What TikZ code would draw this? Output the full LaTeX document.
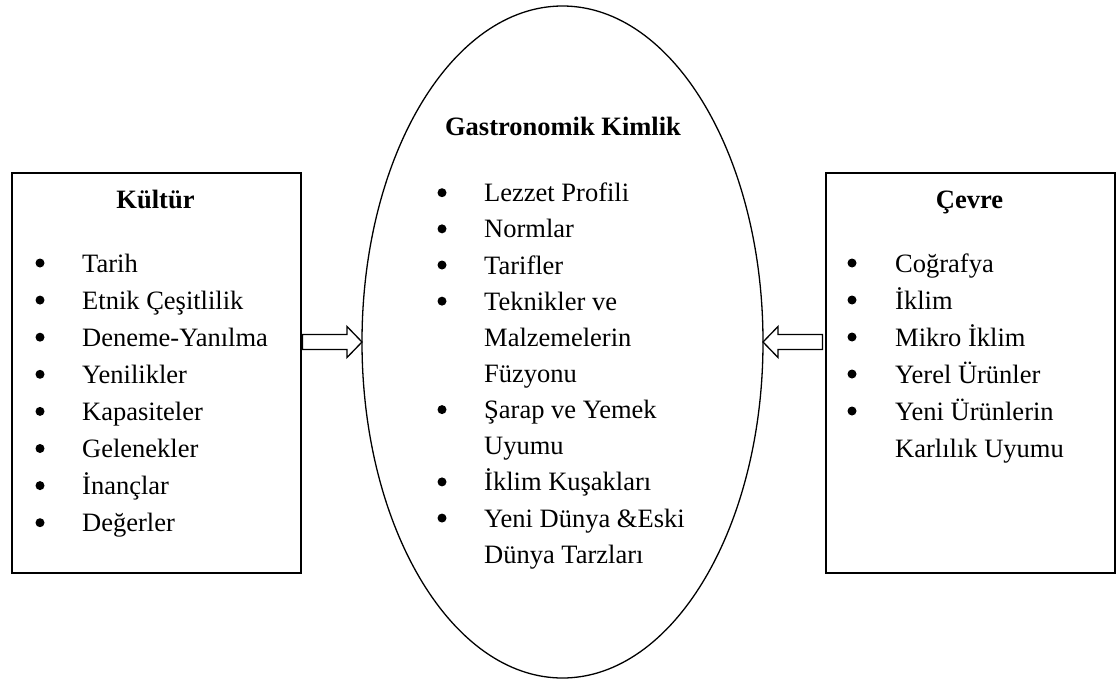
\documentclass[tikz,border=0pt]{standalone}
\usepackage{fontspec}
\setmainfont{Liberation Serif}
\usetikzlibrary{shapes.geometric}
\begin{document}
\begin{tikzpicture}[x=1pt,y=-1pt,
  txt/.style={inner sep=0pt, anchor=base west, font=\fontsize{26.5}{32}\selectfont},
  ttl/.style={inner sep=0pt, anchor=base, font=\fontsize{26.5}{32}\selectfont\bfseries},
  bul/.style={circle, fill=black, inner sep=0pt, minimum size=9pt},
  boxstyle/.style={draw, line width=1.6pt, minimum width=289pt, minimum height=400pt, inner sep=0pt, anchor=north west},
  blockarrow/.style={draw, line width=1.3pt, fill=white, line join=miter}]
\useasboundingbox (0,0) rectangle (1117,680);
% boxes and ellipse
\node[boxstyle] (kultur) at (11,172) {};
\node[boxstyle] (cevre) at (825,172) {};
\node[ellipse, draw, line width=1.3pt, minimum width=401pt, minimum height=672pt, inner sep=0pt, outer sep=0pt] (gk) at (562.5,342) {};
% titles
\node[ttl] (tk) at (155.5,208) {Kültür};
\node[ttl] (tc) at (969.5,208) {Çevre};
\node[ttl] (tg) at (563,135) {Gastronomik Kimlik};
% left items
\foreach [count=\i from 0] \t/\b in {Tarih/1, Etnik Çeşitlilik/1, Deneme-Yanılma/1, Yenilikler/1, Kapasiteler/1, Gelenekler/1, İnançlar/1, Değerler/1} {
  \node[txt] (k\i) at (82,{272+37.1*\i}) {\t};
  \ifnum\b=1 \node[bul] (kb\i) at (40,{272+37.1*\i-9}) {};\fi
}
% right items
\foreach [count=\i from 0] \t/\b in {Coğrafya/1, İklim/1, Mikro İklim/1, Yerel Ürünler/1, Yeni Ürünlerin/1, Karlılık Uyumu/0} {
  \node[txt] (c\i) at (895,{272+37*\i}) {\t};
  \ifnum\b=1 \node[bul] (cb\i) at (852,{272+37*\i-9}) {};\fi
}
% ellipse items
\foreach [count=\i from 0] \t/\b in {Lezzet Profili/1, Normlar/1, Tarifler/1, Teknikler ve/1, Malzemelerin/0, Füzyonu/0, Şarap ve Yemek/1, Uyumu/0, İklim Kuşakları/1, Yeni Dünya \&Eski/1, Dünya Tarzları/0} {
  \node[txt] (g\i) at (484,{201.7+36.15*\i}) {\t};
  \ifnum\b=1 \node[bul] (gb\i) at (442,{201.7+36.15*\i-9}) {};\fi
}
% block arrows
\draw[blockarrow] (gk.west) -- ++(-15,-15.5) -- ++(0,8) -- ++(-44.5,0) -- ++(0,15) -- ++(44.5,0) -- ++(0,8) -- cycle;
\draw[blockarrow] (gk.east) -- ++(15,-15.5) -- ++(0,8) -- ++(44.5,0) -- ++(0,15) -- ++(-44.5,0) -- ++(0,8) -- cycle;
\end{tikzpicture}
\end{document}
